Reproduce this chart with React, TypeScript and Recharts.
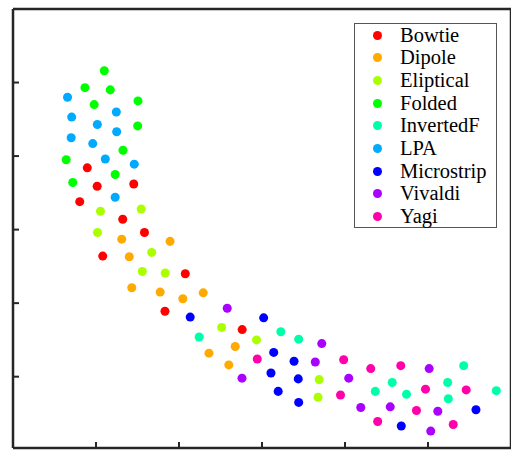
import React from 'react';
import { ScatterChart, Scatter, XAxis, YAxis, ZAxis, Legend } from 'recharts';

type Pt = { x: number, y: number };

const bowtie: Pt[] = [
  { x: 0.895, y: 3.84 }, { x: 1.455, y: 3.62 }, { x: 1.014, y: 3.59 }, { x: 0.804, y: 3.38 },
  { x: 1.322, y: 3.14 }, { x: 1.584, y: 2.96 }, { x: 1.081, y: 2.64 }, { x: 2.076, y: 2.40 },
  { x: 1.831, y: 1.89 }, { x: 2.761, y: 1.64 },
];
const dipole: Pt[] = [
  { x: 1.310, y: 2.87 }, { x: 1.892, y: 2.84 }, { x: 1.401, y: 2.63 }, { x: 1.431, y: 2.21 },
  { x: 1.773, y: 2.15 }, { x: 2.046, y: 2.06 }, { x: 2.292, y: 2.14 }, { x: 2.361, y: 1.32 },
  { x: 2.677, y: 1.41 }, { x: 2.600, y: 1.16 },
];
const eliptical: Pt[] = [
  { x: 1.054, y: 3.25 }, { x: 1.545, y: 3.28 }, { x: 1.018, y: 2.96 }, { x: 1.671, y: 2.69 },
  { x: 1.558, y: 2.43 }, { x: 1.834, y: 2.41 }, { x: 2.514, y: 1.67 }, { x: 2.934, y: 1.50 },
  { x: 3.689, y: 0.96 }, { x: 3.675, y: 0.72 },
];
const folded: Pt[] = [
  { x: 1.100, y: 5.16 }, { x: 0.867, y: 4.93 }, { x: 1.172, y: 4.90 }, { x: 1.506, y: 4.75 },
  { x: 0.978, y: 4.70 }, { x: 1.502, y: 4.41 }, { x: 1.325, y: 4.08 }, { x: 0.641, y: 3.95 },
  { x: 1.231, y: 3.75 }, { x: 0.720, y: 3.64 },
];
const invertedF: Pt[] = [
  { x: 2.243, y: 1.54 }, { x: 3.227, y: 1.61 }, { x: 3.442, y: 1.51 }, { x: 4.365, y: 0.80 },
  { x: 4.569, y: 0.92 }, { x: 4.741, y: 0.76 }, { x: 5.237, y: 0.92 }, { x: 5.430, y: 1.15 },
  { x: 5.245, y: 0.70 }, { x: 5.823, y: 0.81 },
];
const lpa: Pt[] = [
  { x: 0.657, y: 4.80 }, { x: 1.245, y: 4.60 }, { x: 0.707, y: 4.53 }, { x: 1.016, y: 4.43 },
  { x: 1.249, y: 4.33 }, { x: 0.701, y: 4.25 }, { x: 0.961, y: 4.17 }, { x: 1.112, y: 3.96 },
  { x: 1.461, y: 3.89 }, { x: 1.231, y: 3.44 },
];
const microstrip: Pt[] = [
  { x: 2.135, y: 1.81 }, { x: 3.020, y: 1.80 }, { x: 3.141, y: 1.33 }, { x: 3.386, y: 1.21 },
  { x: 3.108, y: 1.05 }, { x: 3.437, y: 0.97 }, { x: 3.195, y: 0.80 }, { x: 3.442, y: 0.65 },
  { x: 5.578, y: 0.55 }, { x: 4.678, y: 0.33 },
];
const vivaldi: Pt[] = [
  { x: 2.581, y: 1.93 }, { x: 2.759, y: 0.98 }, { x: 3.720, y: 1.45 }, { x: 3.642, y: 1.20 },
  { x: 4.045, y: 0.98 }, { x: 4.190, y: 0.58 }, { x: 4.545, y: 0.59 }, { x: 5.014, y: 1.11 },
  { x: 5.118, y: 0.53 }, { x: 5.033, y: 0.26 },
];
const yagi: Pt[] = [
  { x: 2.943, y: 1.24 }, { x: 3.984, y: 1.23 }, { x: 4.310, y: 1.11 }, { x: 4.672, y: 1.15 },
  { x: 3.946, y: 0.75 }, { x: 4.970, y: 0.83 }, { x: 5.460, y: 0.82 }, { x: 4.861, y: 0.54 },
  { x: 4.394, y: 0.39 }, { x: 5.304, y: 0.35 },
];

const seriesNames = ['Bowtie', 'Dipole', 'Eliptical', 'Folded', 'InvertedF', 'LPA', 'Microstrip', 'Vivaldi', 'Yagi'];
const seriesData = [bowtie, dipole, eliptical, folded, invertedF, lpa, microstrip, vivaldi, yagi];
const colors = ['#ff0000', '#ffaa00', '#aaff00', '#00ff00', '#00ffaa', '#00aaff', '#0000ff', '#aa00ff', '#ff00aa'];

const xTicks = [1, 2, 3, 4, 5];
const yTicks = [1, 2, 3, 4, 5];

const axisColor = '#262626';
const axisLine = { stroke: axisColor, strokeWidth: 2.5 };
const tickLine = { stroke: axisColor, strokeWidth: 2 };
const noLabel = () => <g />;

const renderLegend = (props: any) => {
  const { payload } = props;
  return (
    <div style={{
      border: '1px solid #555', background: '#fff', width: 143, height: 205, boxSizing: 'border-box',
      fontFamily: '"Liberation Serif", serif', fontSize: 20.5, color: '#000',
    }}>
      {payload.map((entry: any) => (
        <div key={entry.value} style={{ height: 22.67, display: 'flex', alignItems: 'center' }}>
          <svg width={9} height={9} style={{ marginLeft: 17.5, marginRight: 18.5 }}>
            <circle cx={4.5} cy={4.5} r={4.5} fill={entry.color} />
          </svg>
          <span>{entry.value}</span>
        </div>
      ))}
    </div>
  );
};

const App = () => {
  return (
    <div style={{ position: 'absolute', left: 0, top: 0 }}>
      <ScatterChart width={511} height={451} margin={{ top: 8, right: -1, bottom: 2, left: 12 }}>
        <XAxis type="number" dataKey="x" domain={[0, 6]} ticks={xTicks} interval={0} height={1}
          axisLine={axisLine} tickLine={tickLine} tickSize={-6} tick={noLabel} />
        <XAxis type="number" xAxisId="top" orientation="top" domain={[0, 6]} ticks={xTicks} interval={0} height={1}
          axisLine={axisLine} tickLine={tickLine} tickSize={-6} tick={noLabel} />
        <YAxis type="number" dataKey="y" domain={[0.03, 6]} ticks={yTicks} interval={0} width={1}
          axisLine={axisLine} tickLine={tickLine} tickSize={-6} tick={noLabel} />
        <YAxis type="number" yAxisId="right" orientation="right" domain={[0.03, 6]} ticks={yTicks} interval={0} width={1}
          axisLine={axisLine} tickLine={tickLine} tickSize={-6} tick={noLabel} />
        <ZAxis range={[64, 64]} />
        <Legend layout="vertical" align="center" verticalAlign="middle" content={renderLegend}
          wrapperStyle={{ left: 354, top: 23, width: 143, height: 205, right: 'auto', bottom: 'auto' }} />
        {seriesNames.map((name, i) => (
          <Scatter key={name} name={name} data={seriesData[i]} fill={colors[i]} isAnimationActive={false} />
        ))}
      </ScatterChart>
    </div>
  );
};

export default App;
